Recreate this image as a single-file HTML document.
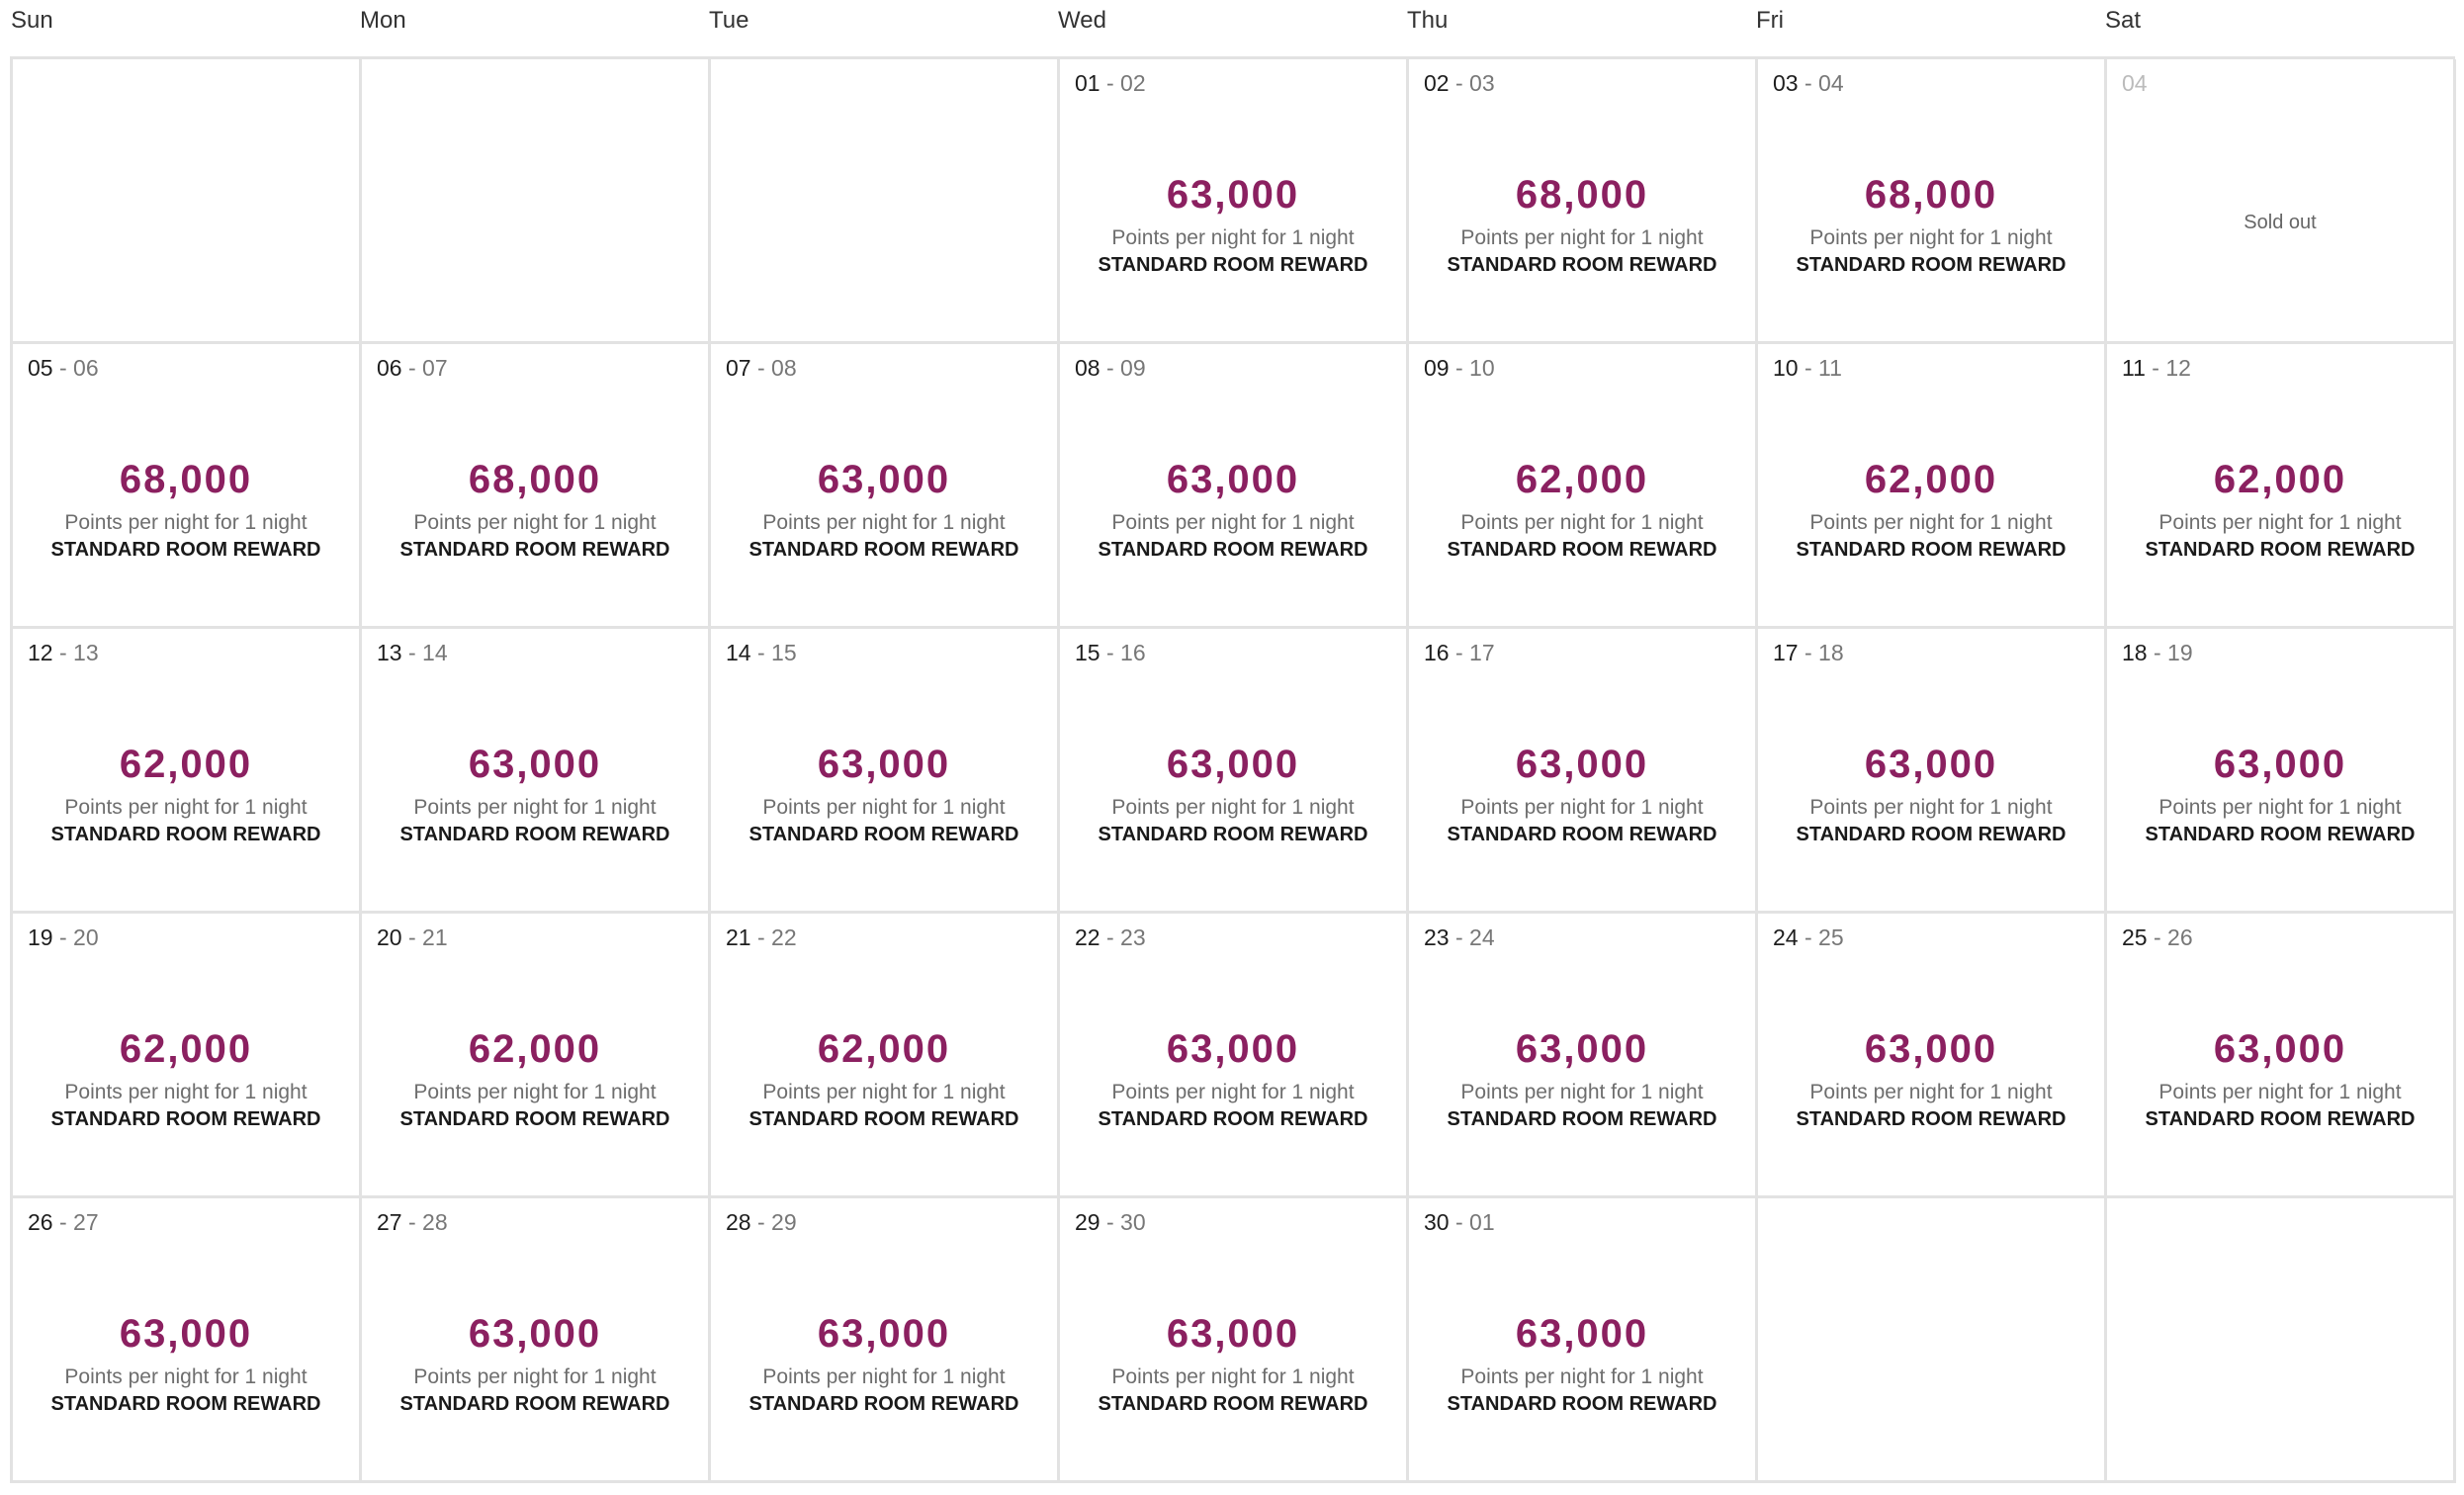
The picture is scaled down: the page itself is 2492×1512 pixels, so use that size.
<!DOCTYPE html>
<html><head><meta charset="utf-8"><style>
*{margin:0;padding:0;box-sizing:border-box}
body{width:2492px;height:1512px;background:#fff;font-family:"Liberation Sans",sans-serif;position:relative;overflow:hidden}
.h{position:absolute;top:6px;font-size:24px;line-height:30px;color:#333}
.g{position:absolute;left:10px;top:57px;width:2473px;height:1443px;border-left:3px solid #e2e2e2;border-top:3px solid #e2e2e2;display:grid;grid-template-columns:repeat(7,353px);grid-template-rows:repeat(5,288px)}
.c{position:relative;border-right:3px solid #e2e2e2;border-bottom:3px solid #e2e2e2}
.d{position:absolute;left:15px;top:10px;font-size:23px;line-height:28px;color:#1e1e1e}
.d span{color:#777}
.p{position:absolute;left:0;right:0;top:113px;text-align:center;font-size:40px;line-height:48px;font-weight:bold;color:#8b2060;letter-spacing:2px}
.s{position:absolute;left:0;right:0;top:168px;text-align:center;font-size:21px;line-height:26px;color:#6e6e6e}
.r{position:absolute;left:0;right:0;top:195px;text-align:center;font-size:20px;line-height:26px;font-weight:bold;color:#1a1a1a}
.so{position:absolute;left:0;right:0;top:152px;text-align:center;font-size:20px;line-height:26px;color:#666}
</style></head><body>
<div class="h" style="left:11px">Sun</div>
<div class="h" style="left:364px">Mon</div>
<div class="h" style="left:717px">Tue</div>
<div class="h" style="left:1070px">Wed</div>
<div class="h" style="left:1423px">Thu</div>
<div class="h" style="left:1776px">Fri</div>
<div class="h" style="left:2129px">Sat</div>
<div class="g">
<div class="c"></div><div class="c"></div><div class="c"></div>
<div class="c"><div class="d">01 <span>- 02</span></div><div class="p">63,000</div><div class="s">Points per night for 1 night</div><div class="r">STANDARD ROOM REWARD</div></div>
<div class="c"><div class="d">02 <span>- 03</span></div><div class="p">68,000</div><div class="s">Points per night for 1 night</div><div class="r">STANDARD ROOM REWARD</div></div>
<div class="c"><div class="d">03 <span>- 04</span></div><div class="p">68,000</div><div class="s">Points per night for 1 night</div><div class="r">STANDARD ROOM REWARD</div></div>
<div class="c"><div class="d" style="color:#bbb">04</div><div class="so">Sold out</div></div>

<div class="c"><div class="d">05 <span>- 06</span></div><div class="p">68,000</div><div class="s">Points per night for 1 night</div><div class="r">STANDARD ROOM REWARD</div></div>
<div class="c"><div class="d">06 <span>- 07</span></div><div class="p">68,000</div><div class="s">Points per night for 1 night</div><div class="r">STANDARD ROOM REWARD</div></div>
<div class="c"><div class="d">07 <span>- 08</span></div><div class="p">63,000</div><div class="s">Points per night for 1 night</div><div class="r">STANDARD ROOM REWARD</div></div>
<div class="c"><div class="d">08 <span>- 09</span></div><div class="p">63,000</div><div class="s">Points per night for 1 night</div><div class="r">STANDARD ROOM REWARD</div></div>
<div class="c"><div class="d">09 <span>- 10</span></div><div class="p">62,000</div><div class="s">Points per night for 1 night</div><div class="r">STANDARD ROOM REWARD</div></div>
<div class="c"><div class="d">10 <span>- 11</span></div><div class="p">62,000</div><div class="s">Points per night for 1 night</div><div class="r">STANDARD ROOM REWARD</div></div>
<div class="c"><div class="d">11 <span>- 12</span></div><div class="p">62,000</div><div class="s">Points per night for 1 night</div><div class="r">STANDARD ROOM REWARD</div></div>

<div class="c"><div class="d">12 <span>- 13</span></div><div class="p">62,000</div><div class="s">Points per night for 1 night</div><div class="r">STANDARD ROOM REWARD</div></div>
<div class="c"><div class="d">13 <span>- 14</span></div><div class="p">63,000</div><div class="s">Points per night for 1 night</div><div class="r">STANDARD ROOM REWARD</div></div>
<div class="c"><div class="d">14 <span>- 15</span></div><div class="p">63,000</div><div class="s">Points per night for 1 night</div><div class="r">STANDARD ROOM REWARD</div></div>
<div class="c"><div class="d">15 <span>- 16</span></div><div class="p">63,000</div><div class="s">Points per night for 1 night</div><div class="r">STANDARD ROOM REWARD</div></div>
<div class="c"><div class="d">16 <span>- 17</span></div><div class="p">63,000</div><div class="s">Points per night for 1 night</div><div class="r">STANDARD ROOM REWARD</div></div>
<div class="c"><div class="d">17 <span>- 18</span></div><div class="p">63,000</div><div class="s">Points per night for 1 night</div><div class="r">STANDARD ROOM REWARD</div></div>
<div class="c"><div class="d">18 <span>- 19</span></div><div class="p">63,000</div><div class="s">Points per night for 1 night</div><div class="r">STANDARD ROOM REWARD</div></div>

<div class="c"><div class="d">19 <span>- 20</span></div><div class="p">62,000</div><div class="s">Points per night for 1 night</div><div class="r">STANDARD ROOM REWARD</div></div>
<div class="c"><div class="d">20 <span>- 21</span></div><div class="p">62,000</div><div class="s">Points per night for 1 night</div><div class="r">STANDARD ROOM REWARD</div></div>
<div class="c"><div class="d">21 <span>- 22</span></div><div class="p">62,000</div><div class="s">Points per night for 1 night</div><div class="r">STANDARD ROOM REWARD</div></div>
<div class="c"><div class="d">22 <span>- 23</span></div><div class="p">63,000</div><div class="s">Points per night for 1 night</div><div class="r">STANDARD ROOM REWARD</div></div>
<div class="c"><div class="d">23 <span>- 24</span></div><div class="p">63,000</div><div class="s">Points per night for 1 night</div><div class="r">STANDARD ROOM REWARD</div></div>
<div class="c"><div class="d">24 <span>- 25</span></div><div class="p">63,000</div><div class="s">Points per night for 1 night</div><div class="r">STANDARD ROOM REWARD</div></div>
<div class="c"><div class="d">25 <span>- 26</span></div><div class="p">63,000</div><div class="s">Points per night for 1 night</div><div class="r">STANDARD ROOM REWARD</div></div>

<div class="c"><div class="d">26 <span>- 27</span></div><div class="p">63,000</div><div class="s">Points per night for 1 night</div><div class="r">STANDARD ROOM REWARD</div></div>
<div class="c"><div class="d">27 <span>- 28</span></div><div class="p">63,000</div><div class="s">Points per night for 1 night</div><div class="r">STANDARD ROOM REWARD</div></div>
<div class="c"><div class="d">28 <span>- 29</span></div><div class="p">63,000</div><div class="s">Points per night for 1 night</div><div class="r">STANDARD ROOM REWARD</div></div>
<div class="c"><div class="d">29 <span>- 30</span></div><div class="p">63,000</div><div class="s">Points per night for 1 night</div><div class="r">STANDARD ROOM REWARD</div></div>
<div class="c"><div class="d">30 <span>- 01</span></div><div class="p">63,000</div><div class="s">Points per night for 1 night</div><div class="r">STANDARD ROOM REWARD</div></div>
<div class="c"></div><div class="c"></div>
</div>
</body></html>
